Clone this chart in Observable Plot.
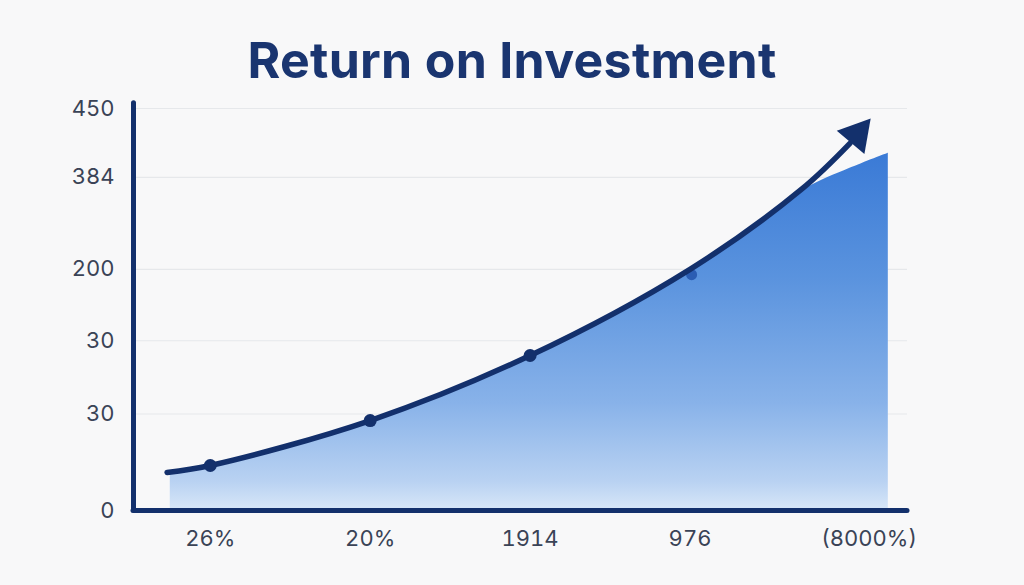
<!DOCTYPE html>
<html>
<head>
<meta charset="utf-8">
<script src="https://cdn.jsdelivr.net/npm/d3@7"></script>
<script src="https://cdn.jsdelivr.net/npm/@observablehq/plot@0.6"></script>
<style>
  html, body { margin: 0; padding: 0; background: #f8f8f9; }
  #wrap { width: 1024px; height: 585px; position: relative; overflow: hidden; }
  #title { position: absolute; left: 0; width: 1024px; top: 32px; text-align: center;
           font-family: Inter, "Noto Sans", sans-serif; font-weight: 700; font-size: 50px;
           line-height: 56px; color: #1a3570; letter-spacing: 0.3px; }
  #chart { position: absolute; left: 0; top: 95px; }
</style>
</head>
<body>
<div id="wrap">
  <div id="title">Return on Investment</div>
  <div id="chart"></div>
</div>
<script>
// x-axis categories (positions along the index axis)
const xTickValues = [0, 1, 2, 3, 4.12];
const xTickLabels = ["26%", "20%", "1914", "976", "(8000%)"];

// y-axis ticks (as drawn in the reference) and their labels
const yTickValues = [0, 108, 190, 270, 373, 450];
const yTickLabels = ["0", "30", "30", "200", "384", "450"];
const gridValues = [108, 190, 270, 373, 450];

// trend line
const lineX = [-0.27, 0, 1, 2, 3, 3.7, 4.0];
const lineY = [42.5, 50.4, 100.7, 173.5, 270, 360, 411];

// filled area
const areaX = [-0.25, 0, 1, 2, 3, 3.7, 4.0, 4.24];
const areaY = [40, 49, 99, 172, 268, 358, 383, 400];

// marked points (the last one is lighter, sitting just under the line)
const pointX = [0, 1, 2];
const pointY = [50.4, 100.7, 173.5];
const lightPointX = [3.01];
const lightPointY = [264];

// arrow head
const arrowX = [4.046];
const arrowY = [421];

const xDomain = [-0.48, 4.36];
const yDomain = [0, 450];
const navy = "#13306c";

const lineData = lineX.map((x, i) => ({x, y: lineY[i]}));
const areaData = areaX.map((x, i) => ({x, y: areaY[i]}));
const pointData = pointX.map((x, i) => ({x, y: pointY[i]}));
const lightPointData = lightPointX.map((x, i) => ({x, y: lightPointY[i]}));
const arrowData = arrowX.map((x, i) => ({x, y: arrowY[i]}));
const xLab = new Map(xTickValues.map((v, i) => [v, xTickLabels[i]]));
const yLab = new Map(yTickValues.map((v, i) => [v, yTickLabels[i]]));

const chart = Plot.plot({
  width: 1024,
  height: 490,
  marginTop: 13,
  marginBottom: 75,
  marginLeft: 133,
  marginRight: 117,
  style: { background: "transparent", fontFamily: "Inter, 'Noto Sans', sans-serif", color: "#3a4356" },
  x: { domain: xDomain, axis: null },
  y: { domain: yDomain, axis: null },
  marks: [
    Plot.ruleY(gridValues, { stroke: "#e6e8eb", strokeWidth: 1.2 }),
    Plot.areaY(areaData, { x: "x", y: "y", curve: "catmull-rom", fill: "url(#roiGrad)" }),
    Plot.dot(lightPointData, { x: "x", y: "y", r: 5.5, fill: "#2b5db3" }),
    Plot.line(lineData, { x: "x", y: "y", curve: "catmull-rom", stroke: navy, strokeWidth: 5.5, strokeLinecap: "round" }),
    Plot.dot(pointData, { x: "x", y: "y", r: 6.5, fill: navy }),
    Plot.dot(arrowData, { x: "x", y: "y", symbol: "triangle", r: 13.4, rotate: 40, fill: navy }),
    Plot.ruleX([xDomain[0]], { y1: 0, y2: 456, stroke: navy, strokeWidth: 5, strokeLinecap: "round" }),
    Plot.ruleY([0], { stroke: navy, strokeWidth: 5, strokeLinecap: "round" }),
    Plot.axisY({ ticks: yTickValues, tickFormat: d => yLab.get(d), tickSize: 0, tickPadding: 19, fontSize: 22, fill: "#3a4356", label: null }),
    Plot.axisX({ ticks: xTickValues, tickFormat: d => xLab.get(d), tickSize: 0, tickPadding: 20, fontSize: 22, fill: "#3a4356", label: null })
  ]
});

const ns = "http://www.w3.org/2000/svg";
const defs = document.createElementNS(ns, "defs");
defs.innerHTML = `<linearGradient id="roiGrad" x1="0" y1="0" x2="0" y2="1">
  <stop offset="0" stop-color="#3a7ad6"/>
  <stop offset="0.35" stop-color="#5a93de"/>
  <stop offset="0.7" stop-color="#88b2e9"/>
  <stop offset="0.92" stop-color="#b9d2f2"/>
  <stop offset="1" stop-color="#d8e7f8"/>
</linearGradient>`;
chart.insertBefore(defs, chart.firstChild);
document.getElementById("chart").appendChild(chart);
</script>
</body>
</html>
